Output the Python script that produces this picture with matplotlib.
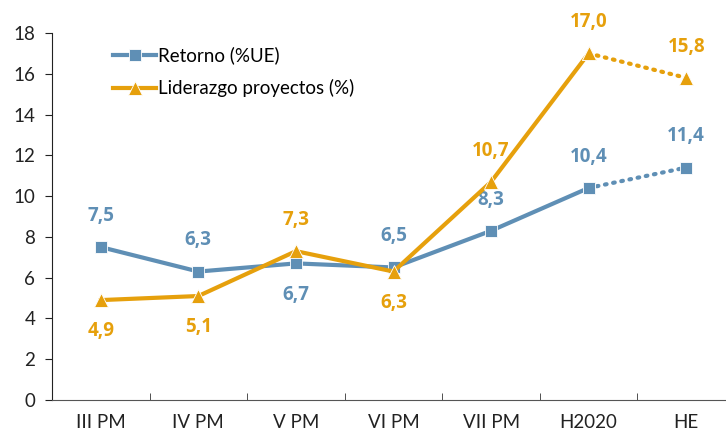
import matplotlib.pyplot as plt

categories = ['III PM', 'IV PM', 'V PM', 'VI PM', 'VII PM', 'H2020', 'HE']
retorno = [7.5, 6.3, 6.7, 6.5, 8.3, 10.4, 11.4]
liderazgo = [4.9, 5.1, 7.3, 6.3, 10.7, 17.0, 15.8]
# +1 label above the point, -1 below
retorno_pos = [1, 1, -1, 1, 1, 1, 1]
liderazgo_pos = [-1, -1, 1, -1, 1, 1, 1]

BLUE = '#5f8fb5'
ORANGE = '#e6a00c'

plt.rcParams['font.family'] = ['Lato', 'DejaVu Sans']

fig = plt.figure(figsize=(7.26, 4.36), dpi=100)
ax = fig.add_axes([52/726, 36/436, 683/726, 367/436])

x = list(range(len(categories)))

def draw(vals, color, marker, ms, label, pos):
    ax.plot(x[:6], vals[:6], color=color, lw=3, marker=marker, ms=ms,
            mec='white', mew=0.6, label=label, zorder=3)
    ax.plot(x[5:], vals[5:], color=color, lw=3, ls=(0, (0.4, 1.6)),
            dash_capstyle='round', zorder=2)
    ax.plot(x[5:], vals[5:], color=color, lw=0, marker=marker, ms=ms,
            mec='white', mew=0.6, zorder=4)
    for xi, v, p in zip(x, vals, pos):
        ax.annotate(f'{v:.1f}'.replace('.', ','), (xi, v), xytext=(0, 22.5*p),
                    textcoords='offset points', ha='center', va='center',
                    color=color, fontsize=13.5, fontweight='bold',
                    family=['Open Sans', 'DejaVu Sans'])

draw(retorno, BLUE, 's', 9, 'Retorno (%UE)', retorno_pos)
draw(liderazgo, ORANGE, '^', 10, 'Liderazgo proyectos (%)', liderazgo_pos)

ax.set_xlim(-0.5, 6.5)
ax.set_ylim(0, 18)
ax.set_yticks(range(0, 19, 2))
ax.set_xticks(x)
ax.set_xticklabels(categories)
ax.set_xticks([i - 0.5 for i in range(8)], minor=True)
ax.tick_params(axis='x', which='major', length=0, pad=10, labelsize=13.5, colors='#222222')
ax.tick_params(axis='x', which='minor', length=5, direction='in', color='#333333')
ax.tick_params(axis='y', length=5, direction='out', labelsize=13.5, colors='#222222', pad=7)
for s in ['top', 'right']:
    ax.spines[s].set_visible(False)
ax.spines['left'].set_color('#222222')
ax.spines['bottom'].set_color('#555555')

ax.legend(loc='upper left', bbox_to_anchor=(0.065, 1.01), frameon=False,
          fontsize=13.5, handlelength=2.3, handletextpad=0.1, labelspacing=0.8)

fig.savefig('out.png', dpi=100)
